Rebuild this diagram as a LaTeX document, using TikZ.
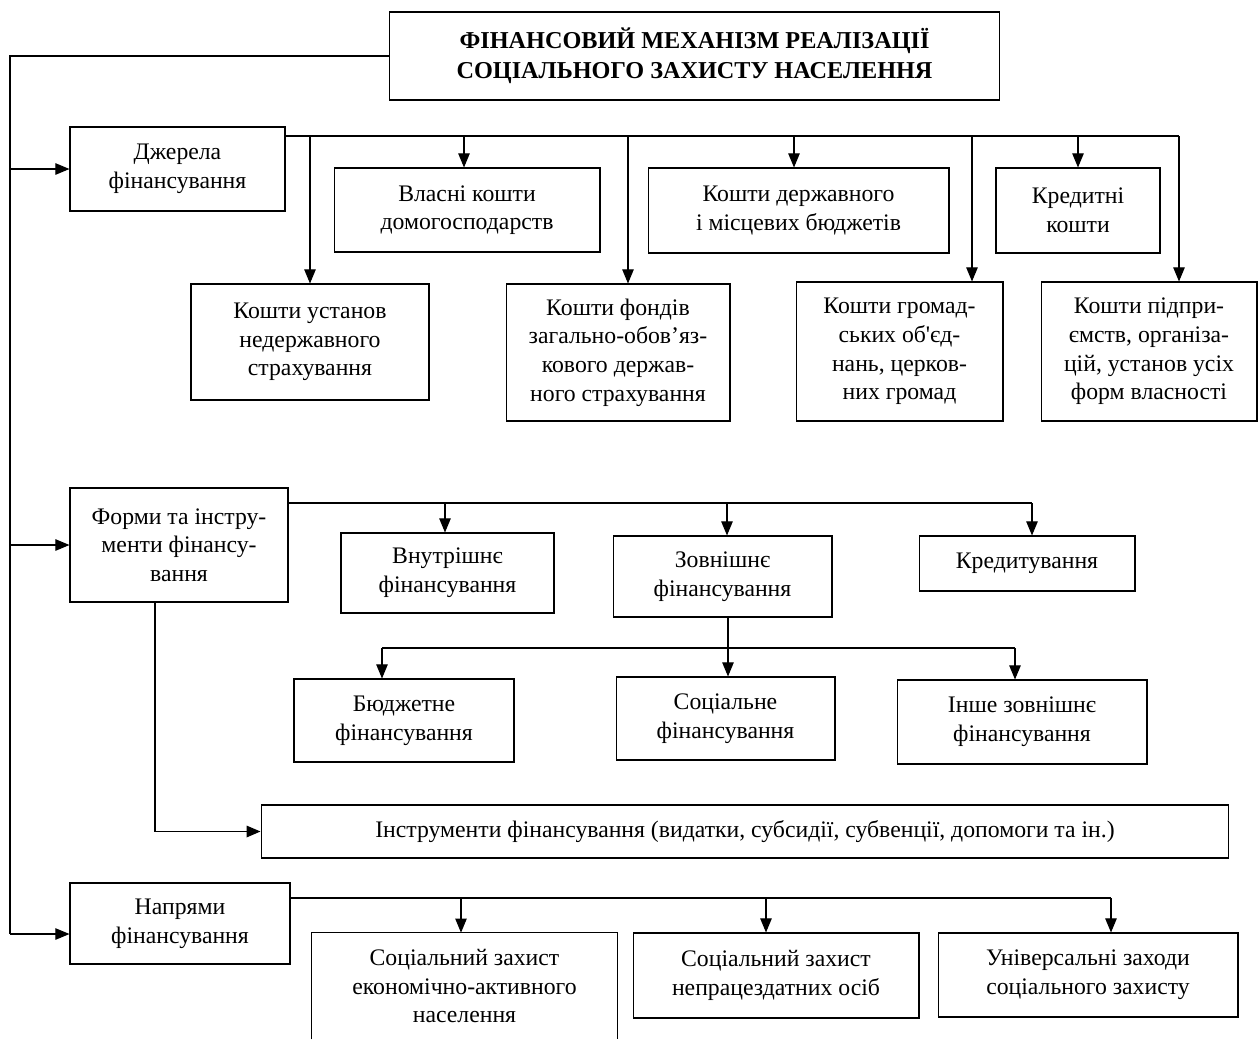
\documentclass[tikz,border=0pt]{standalone}
\usepackage{fontspec}
\setmainfont{Liberation Serif}
\usetikzlibrary{arrows.meta}

\begin{document}
\begin{tikzpicture}[x=0.02cm,y=-0.02cm,
 font=\fontsize{13.5}{16.3}\selectfont,
 box/.style={draw,line width=0.6pt,align=center,inner sep=0pt},
 bus/.style={line width=1.1pt},
 arr/.style={line width=0.6pt,-{Triangle[length=8pt,width=6.5pt]}}]

  \useasboundingbox (0,0) rectangle (1258,1039);

  \node[box,font=\bfseries\fontsize{13.8}{17}\selectfont,minimum width=12.22cm,minimum height=1.76cm] (1) at (694.5,56) {ФІНАНСОВИЙ МЕХАНІЗМ РЕАЛІЗАЦІЇ\\СОЦІАЛЬНОГО ЗАХИСТУ НАСЕЛЕННЯ};

  % sources
  \node[box,minimum width=4.3cm,minimum height=1.68cm] (2) at (177.5,169) {Джерела\\фінансування};
  \node[box,minimum width=5.32cm,minimum height=1.68cm] (3) at (467,210) {Власні кошти\\домогосподарств};
  \node[box,minimum width=6.02cm,minimum height=1.7cm] (4) at (798.5,210.5) {Кошти державного\\і місцевих бюджетів};
  \node[box,minimum width=3.28cm,minimum height=1.7cm] (5) at (1078,210.5) {Кредитні\\кошти};
  \node[box,minimum width=4.76cm,minimum height=2.32cm] (6) at (310,342) {Кошти установ\\недержавного\\страхування};
  \node[box,minimum width=4.48cm,minimum height=2.74cm] (7) at (618,352.5) {Кошти фондів\\загально-обов’яз-\\кового держав-\\ного страхування};
  \node[box,minimum width=4.14cm,minimum height=2.78cm] (8) at (899.5,351.5) {Кошти громад-\\ських об\textquotesingle єд-\\нань, церков-\\них громад};
  \node[box,minimum width=4.32cm,minimum height=2.78cm] (9) at (1149,351.5) {Кошти підпри-\\ємств, організа-\\цій, установ усіх\\форм власності};

  % forms and instruments
  \node[box,minimum width=4.36cm,minimum height=2.28cm] (10) at (179,545) {Форми та інстру-\\менти фінансу-\\вання};
  \node[box,minimum width=4.26cm,minimum height=1.6cm] (11) at (447.5,573) {Внутрішнє\\фінансування};
  \node[box,minimum width=4.38cm,minimum height=1.62cm] (12) at (722.5,576.5) {Зовнішнє\\фінансування};
  \node[box,minimum width=4.32cm,minimum height=1.1cm] (13) at (1027,563.5) {Кредитування};
  \node[box,minimum width=4.4cm,minimum height=1.66cm] (14) at (404,720.5) {Бюджетне\\фінансування};
  \node[box,minimum width=4.38cm,minimum height=1.66cm] (15) at (725.5,718.5) {Соціальне\\фінансування};
  \node[box,minimum width=5cm,minimum height=1.68cm] (16) at (1022,722) {Інше зовнішнє\\фінансування};
  \node[box,minimum width=19.36cm,minimum height=1.06cm] (17) at (745,831.5) {Інструменти фінансування (видатки, субсидії, субвенції, допомоги та ін.)};

  % directions
  \node[box,minimum width=4.4cm,minimum height=1.62cm] (18) at (180,923.5) {Напрями\\фінансування};
  \node[align=center,inner sep=0pt,minimum width=6.1cm,minimum height=2.12cm] (19) at (464.5,986) {Соціальний захист\\економічно-активного\\населення};
  \draw[line width=0.6pt] (19.south west) -- (19.north west) -- (19.north east) -- (19.south east);
  \node[box,minimum width=5.72cm,minimum height=1.7cm] (20) at (776,975.5) {Соціальний захист\\непрацездатних осіб};
  \node[box,minimum width=6cm,minimum height=1.68cm] (21) at (1088,975) {Універсальні заходи\\соціального захисту};

  % trunk
  \coordinate (top) at (10,55);
  \coordinate (bot) at (10,934);
  \draw[bus] (top) -- (bot);
  \draw[bus] (1.west) -- (1.west -| top);
  \draw[arr] (2.west -| top) -- (2.west);
  \draw[arr] (10.west -| top) -- (10.west);
  \draw[arr] (bot) -- (18.west |- bot);

  \draw[bus] (2.east |- 0,136) -- (1179,136);
  \foreach \x/\t in {310/6, 464/3, 628/7, 794/4, 972/8, 1078/5, 1179/9} {
   \draw[arr] (\x,136) -- (\x,0 |- \t.north);}

  \draw[bus] (10.east |- 0,503) -- (1032,503);
  \foreach \x/\t in {445/11, 727/12, 1032/13} {
   \draw[arr] (\x,503) -- (\x,0 |- \t.north);}

  \draw[bus] (728,0 |- 12.south) -- (728,648);
  \draw[bus] (382,648) -- (1015,648);
  \foreach \x/\t in {382/14, 728/15, 1015/16} {
   \draw[arr] (\x,648) -- (\x,0 |- \t.north);}

  \draw[arr,bus] (155,0 |- 10.south) |- (17.west);

  \draw[bus] (18.east |- 0,898) -- (1111,898);
  \foreach \x/\t in {461/19, 766/20, 1111/21} {
   \draw[arr] (\x,898) -- (\x,0 |- \t.north);}
\end{tikzpicture}
\end{document}
